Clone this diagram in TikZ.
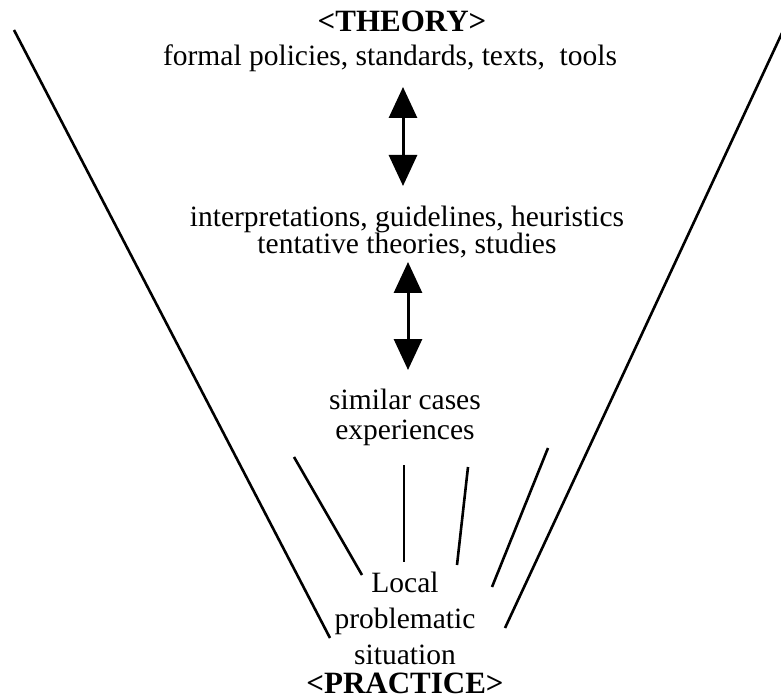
\documentclass[tikz,border=0pt]{standalone}
\usepackage{fontspec}
\setmainfont{Liberation Serif}
\usetikzlibrary{arrows.meta}
\begin{document}
\begin{tikzpicture}[x=1pt,y=-1pt,
  txt/.style={inner sep=0pt,align=center,font=\fontsize{29.5}{27}\selectfont},
  line/.style={inner sep=0pt,anchor=base,font=\fontsize{29.5}{30}\selectfont},
  ttl/.style={inner sep=0pt,anchor=base,font=\fontsize{31}{31}\selectfont\bfseries},
  ray/.style={line width=2.6pt},
  dblarrow/.style={line width=3pt,{Triangle[width=28pt,length=31pt]}-{Triangle[width=28pt,length=31pt]}}]
\useasboundingbox (0,0) rectangle (781,700);
% texts
\node[ttl] (theory) at (402,32) {<THEORY>};
\node[txt] (formal) at (390,58) {formal policies, standards, texts,\ \ tools};
\node[txt] (interp) at (407,232) {interpretations, guidelines, heuristics\\tentative theories, studies};
\node[txt,font=\fontsize{29.5}{30}\selectfont] (similar) at (405,417) {similar cases\\experiences};
\node[line] (local) at (405,592) {Local};
\node[line] (problematic) at (405,628) {problematic};
\node[line] (situation) at (405,664) {situation};
\node[ttl] (practice) at (405,693) {<PRACTICE>};
% arrows
\coordinate (a1t) at (403,87);
\coordinate (a1b) at (403,186);
\coordinate (a2t) at (408,262);
\coordinate (a2b) at (408,370);
\draw[dblarrow] (a1t) -- (a1b);
\draw[dblarrow] (a2t) -- (a2b);
% funnel sides
\coordinate (lt) at (14,30);
\coordinate (lb) at (330,638);
\coordinate (rt) at (782,33);
\coordinate (rb) at (505,628);
\draw[ray] (lt) -- (lb);
\draw[ray] (rt) -- (rb);
% small rays
\coordinate (s1t) at (294,457); \coordinate (s1b) at (362,575);
\coordinate (s2t) at (404,465); \coordinate (s2b) at (404,562);
\coordinate (s3t) at (468,467); \coordinate (s3b) at (457,565);
\coordinate (s4t) at (548,448); \coordinate (s4b) at (492,587);
\draw[ray] (s1t) -- (s1b);
\draw[ray] (s2t) -- (s2b);
\draw[ray] (s3t) -- (s3b);
\draw[ray] (s4t) -- (s4b);
\end{tikzpicture}
\end{document}
